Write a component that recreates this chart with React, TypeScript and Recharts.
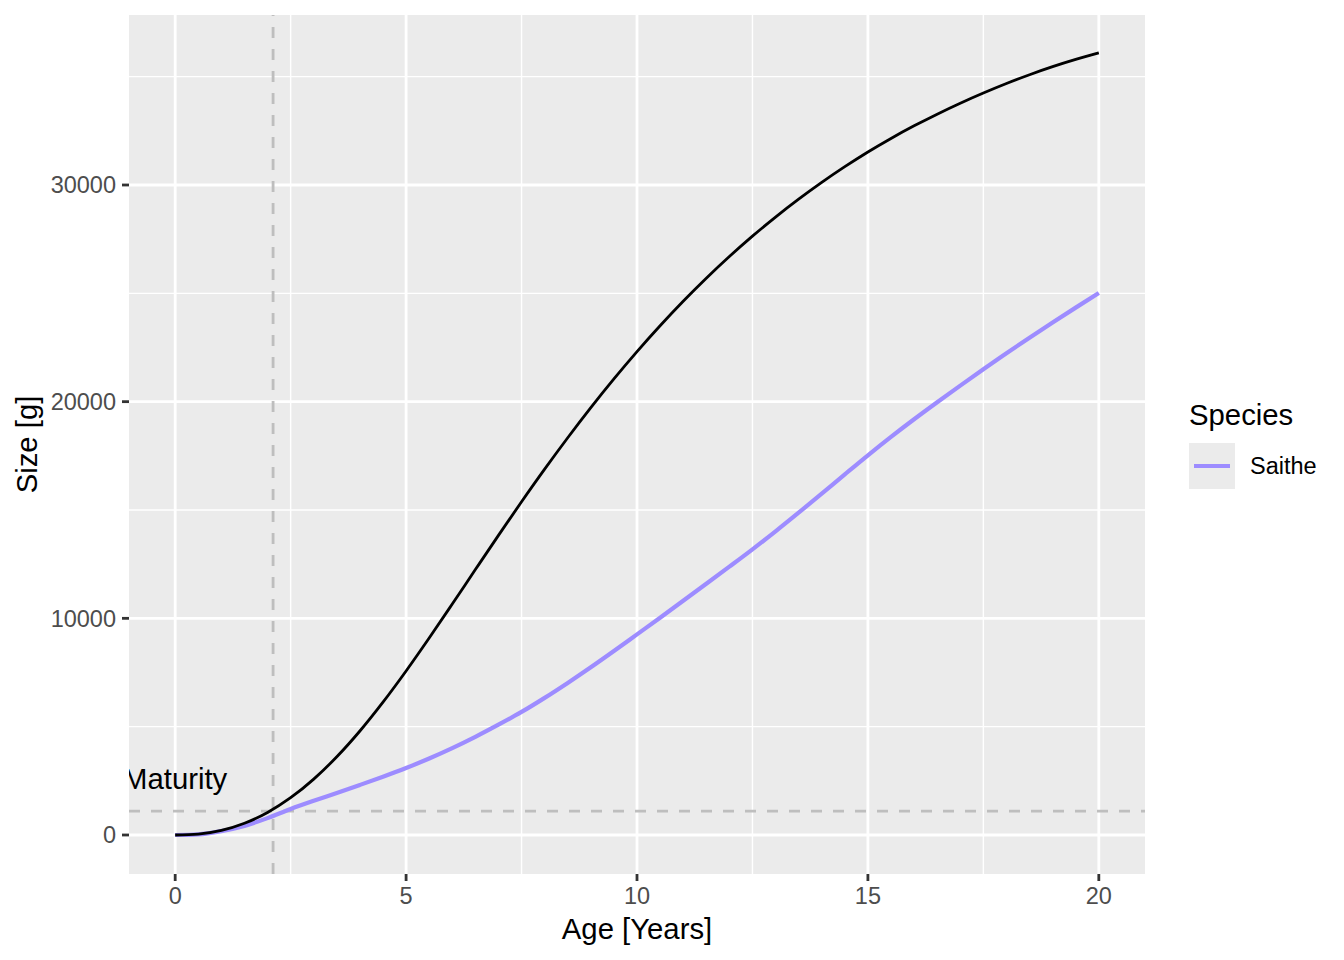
import { CartesianGrid, Label, Line, LineChart, ReferenceDot, ReferenceLine, XAxis, YAxis } from "recharts";

const FONT = '"Liberation Sans", Arial, Helvetica, sans-serif';

// ages in years, sizes in grams
const ages = [
  0, 0.5, 1, 1.5, 2, 2.5, 3, 3.5, 4, 4.5, 5, 5.5, 6, 6.5, 7, 7.5, 8, 8.5, 9, 9.5, 10,
  10.5, 11, 11.5, 12, 12.5, 13, 13.5, 14, 14.5, 15, 15.5, 16, 16.5, 17, 17.5, 18, 18.5, 19, 19.5, 20
];
const otherSize = [
  0, 40, 210, 540, 1040, 1720, 2580, 3610, 4800, 6130, 7570, 9090, 10660, 12250, 13830, 15380, 16885, 18335, 19725, 21050, 22310,
  23505, 24635, 25700, 26700, 27640, 28520, 29345, 30120, 30845, 31525, 32150, 32730, 33270, 33775, 34245, 34685, 35090, 35460, 35795, 36095
];
const saitheSize = [
  0, 30, 180, 420, 780, 1200, 1580, 1940, 2310, 2690, 3090, 3530, 4010, 4530, 5090, 5680, 6330, 7020, 7740, 8490, 9260,
  10030, 10810, 11595, 12385, 13185, 14015, 14875, 15755, 16645, 17525, 18375, 19190, 19975, 20740, 21495, 22235, 22950, 23650, 24340, 25015
];

const maturityAge = 2.12;
const maturitySize = 1100;
const maturityLabelAge = 0;
const maturityLabelSize = 2600;

const xTicks = [0, 5, 10, 15, 20];
const xMinor = [2.5, 7.5, 12.5, 17.5];
const yTicks = [0, 10000, 20000, 30000];
const yMinor = [5000, 15000, 25000, 35000];

const legendTitle = "Species";
const legendItems = [{ label: "Saithe", color: "#9D8CFF" }];

const data = ages.map((age, i) => ({ age, other: otherSize[i], saithe: saitheSize[i] }));

const W = 1344;
const H = 960;
const Y_AXIS_W = 129;
const X_AXIS_H = 86;
const MARGIN = { top: 15, right: 199, bottom: 0, left: 0 };
const PANEL = {
  x: MARGIN.left + Y_AXIS_W,
  y: MARGIN.top,
  w: W - MARGIN.left - Y_AXIS_W - MARGIN.right,
  h: H - MARGIN.top - MARGIN.bottom - X_AXIS_H
};

const tickStyle = { fill: "#4D4D4D", fontSize: 23.5, fontFamily: FONT };
const tickLine = { stroke: "#333333", strokeWidth: 2.8 };

function SpeciesLegend() {
  return (
    <div style={{ position: "absolute", left: 1189, top: 398, fontFamily: FONT, color: "#000" }}>
      <div style={{ fontSize: 29.3, lineHeight: "34px" }}>{legendTitle}</div>
      {legendItems.map((item) => (
        <div key={item.label} style={{ display: "flex", alignItems: "center", marginTop: 11 }}>
          <div style={{ width: 46, height: 46, background: "#EBEBEB", position: "relative" }}>
            <div style={{ position: "absolute", left: 5, right: 5, top: 21, height: 4, background: item.color }} />
          </div>
          <span style={{ fontSize: 23.5, marginLeft: 15 }}>{item.label}</span>
        </div>
      ))}
    </div>
  );
}

export default function App() {
  return (
    <div style={{ position: "absolute", left: 0, top: 0, width: W, height: H, background: "#fff" }}>
      <LineChart width={W} height={H} data={data} margin={MARGIN}>
        <defs>
          <clipPath id="panel-clip">
            <rect x={PANEL.x} y={PANEL.y} width={PANEL.w} height={PANEL.h} />
          </clipPath>
        </defs>
        <CartesianGrid fill="#EBEBEB" fillOpacity={1} stroke="#FFFFFF" strokeWidth={1.4} horizontalValues={yMinor} verticalValues={xMinor} />
        <CartesianGrid fill="none" stroke="#FFFFFF" strokeWidth={2.8} horizontalValues={yTicks} verticalValues={xTicks} />
        <XAxis
          type="number"
          dataKey="age"
          domain={[-1, 21]}
          allowDataOverflow
          ticks={xTicks}
          height={X_AXIS_H}
          axisLine={false}
          tickLine={tickLine}
          tickSize={7}
          tickMargin={6}
          tick={tickStyle}
        >
          <Label
            content={({ viewBox }: any) => (
              <text x={viewBox.x + viewBox.width / 2} y={939} textAnchor="middle" fontSize={29.3} fontFamily={FONT} fill="#000">
                Age [Years]
              </text>
            )}
          />
        </XAxis>
        <YAxis
          type="number"
          domain={[-1800, 37846]}
          allowDataOverflow
          ticks={yTicks}
          width={Y_AXIS_W}
          axisLine={false}
          tickLine={tickLine}
          tickSize={7}
          tickMargin={6}
          tick={tickStyle}
          tickFormatter={(v: number) => String(v)}
        >
          <Label
            content={({ viewBox }: any) => {
              const cy = viewBox.y + viewBox.height / 2;
              return (
                <text x={37} y={cy} transform={`rotate(-90, 37, ${cy})`} textAnchor="middle" fontSize={29.3} fontFamily={FONT} fill="#000">
                  Size [g]
                </text>
              );
            }}
          />
        </YAxis>
        <ReferenceLine x={maturityAge} stroke="#BEBEBE" strokeWidth={2.8} strokeDasharray="11 11" />
        <ReferenceLine y={maturitySize} stroke="#BEBEBE" strokeWidth={2.8} strokeDasharray="11 11" />
        <ReferenceDot
          x={maturityLabelAge}
          y={maturityLabelSize}
          r={1}
          fill="none"
          stroke="none"
          label={{
            content: ({ viewBox }: any) => (
              <g clipPath="url(#panel-clip)">
                <text
                  x={viewBox.x + viewBox.width / 2}
                  y={viewBox.y + viewBox.height / 2 + 10.5}
                  textAnchor="middle"
                  fontSize={29.3}
                  fontFamily={FONT}
                  fill="#000"
                >
                  Maturity
                </text>
              </g>
            )
          }}
        />
        <Line type="monotone" dataKey="saithe" name="Saithe" stroke={legendItems[0].color} strokeWidth={4.2} dot={false} activeDot={false} isAnimationActive={false} />
        <Line type="monotone" dataKey="other" name="Other" stroke="#000000" strokeWidth={2.8} dot={false} activeDot={false} isAnimationActive={false} />
      </LineChart>
      <SpeciesLegend />
    </div>
  );
}
